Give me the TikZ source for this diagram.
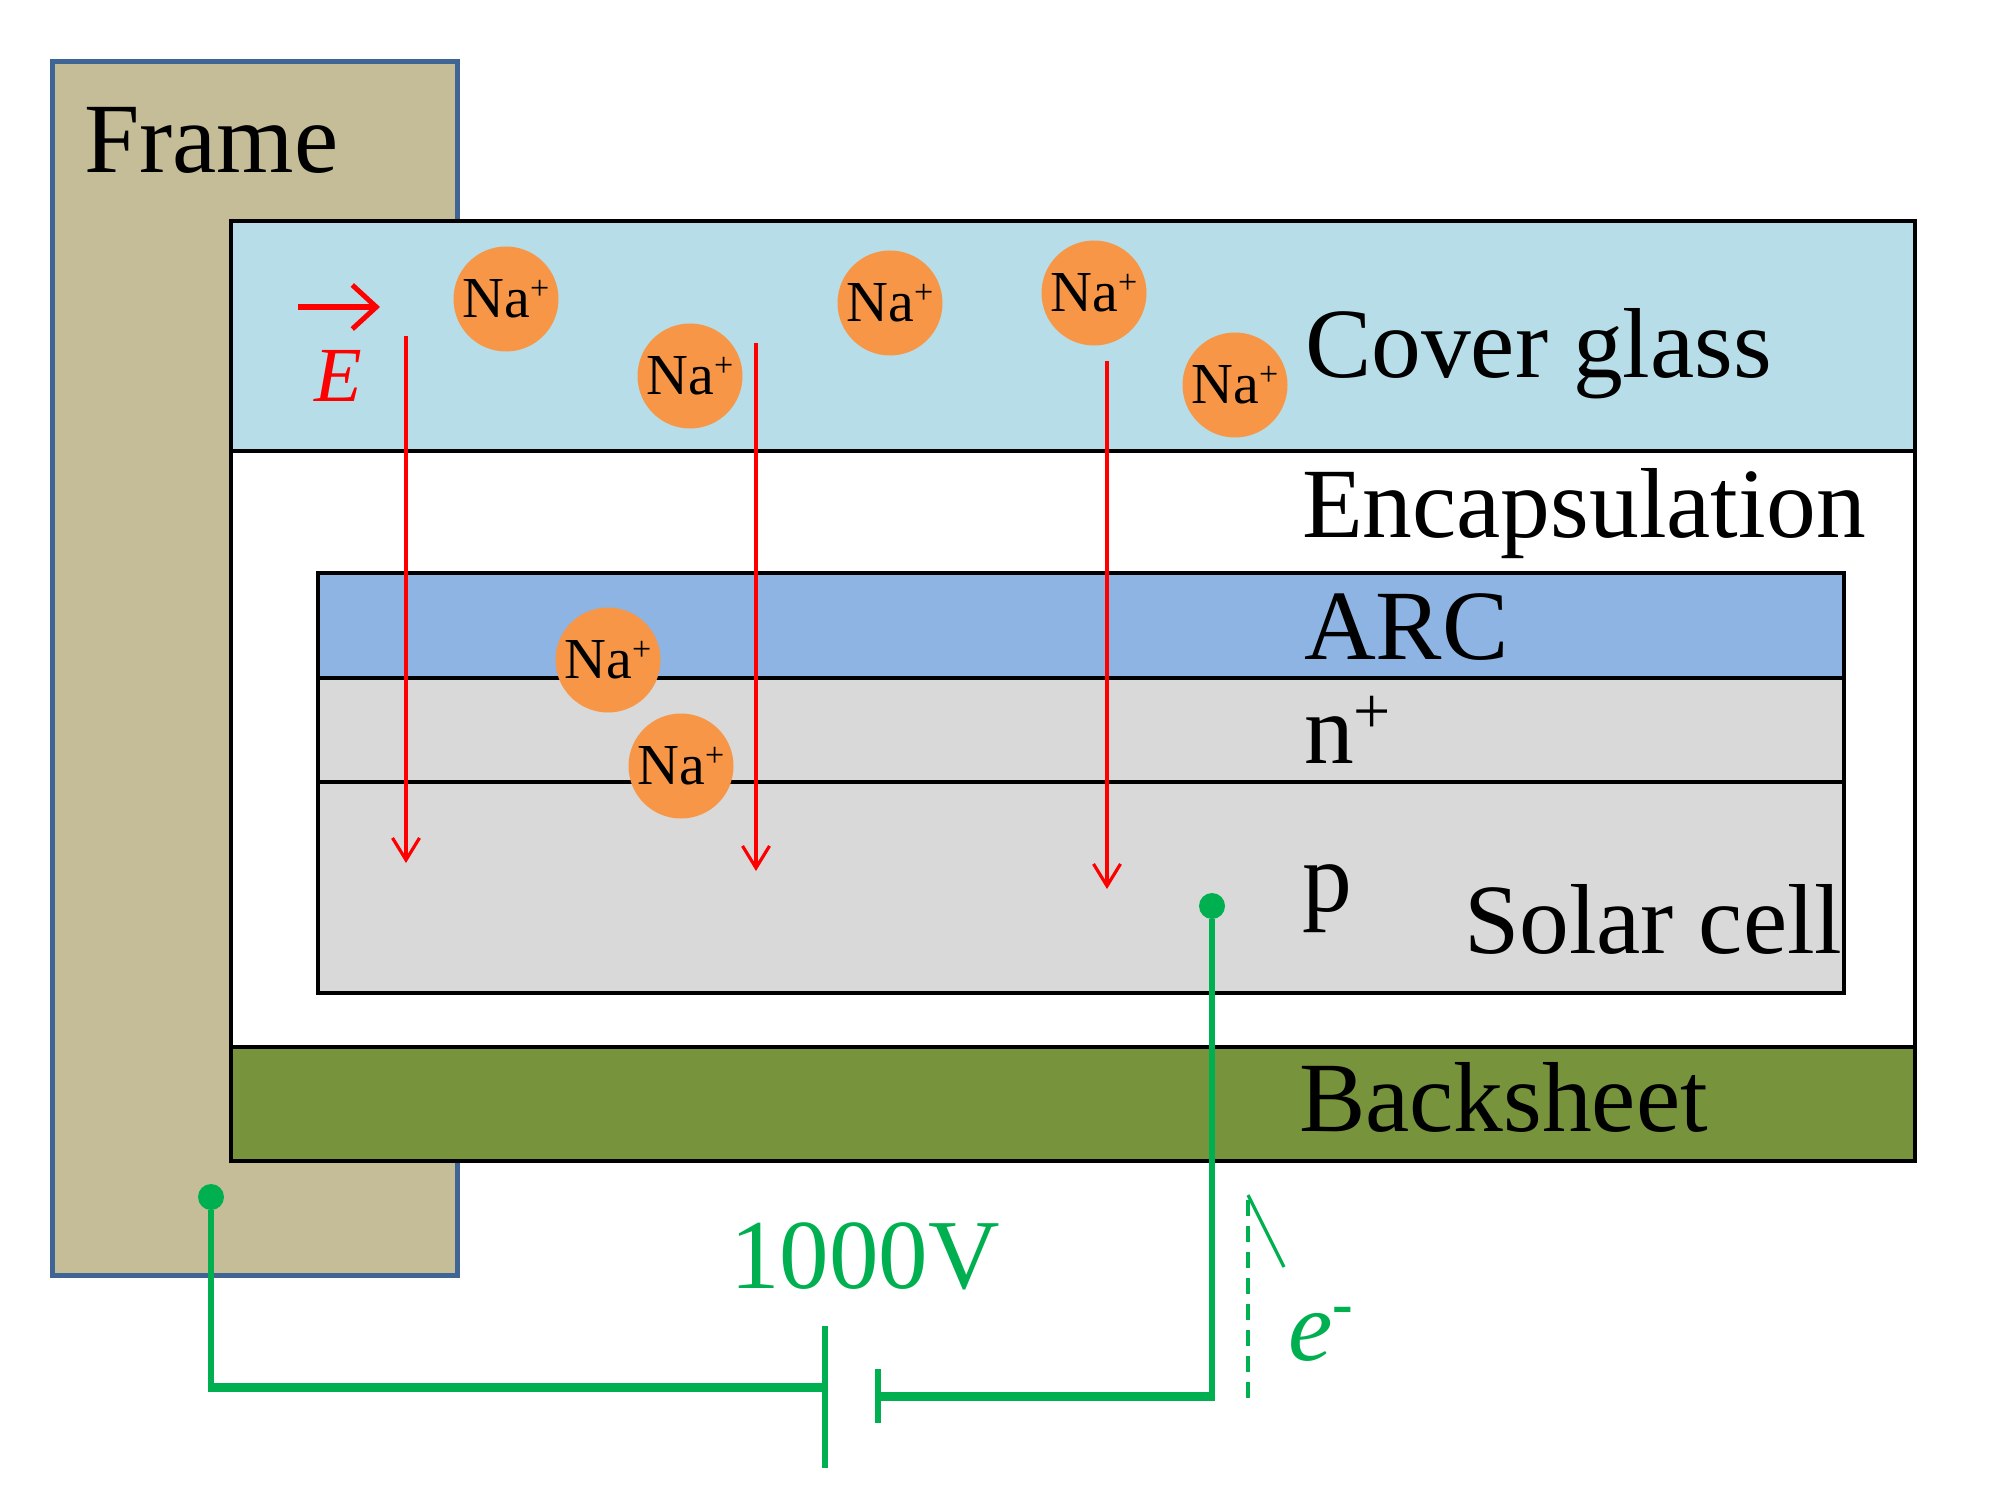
\documentclass[tikz,border=0pt]{standalone}
\usepackage{fontspec}
\setmainfont{Liberation Serif}
\usetikzlibrary{arrows.meta}
\definecolor{framefill}{HTML}{C4BD97}
\definecolor{frameline}{HTML}{3F6595}
\definecolor{glassblue}{HTML}{B7DEE8}
\definecolor{arcblue}{HTML}{8EB4E3}
\definecolor{cellgray}{HTML}{D9D9D9}
\definecolor{backgreen}{HTML}{77933C}
\definecolor{naorange}{HTML}{F79646}
\definecolor{wiregreen}{HTML}{00B050}
\newcommand{\pxfont}[1]{\fontsize{#1}{#1}\selectfont}
\newcommand{\naion}{Na\raisebox{18pt}{\pxfont{34}+}}
\tikzset{
  layer/.style={draw=black,line width=4.5pt},
  lbl/.style={anchor=base west,inner sep=0pt,outer sep=0pt,font=\pxfont{99.5},text=black},
  glbl/.style={lbl,text=wiregreen},
  ion/.style={circle,fill=naorange,minimum size=105pt,inner sep=0pt,font=\pxfont{58},text=black},
  field/.style={draw=red,line width=3.2pt,-{Straight Barb[length=22pt,width=27pt,line width=3.2pt]}},
  wire/.style={draw=wiregreen,line width=6.5pt,line cap=butt},
  dot/.style={circle,fill=wiregreen,minimum size=26pt,inner sep=0pt},
}
\begin{document}
\begin{tikzpicture}[x=1pt,y=-1pt]
\useasboundingbox (0,0) rectangle (2008,1495);
% frame and module layers
\draw[fill=framefill,draw=frameline,line width=5pt] (52,62) rectangle (457,1275);
\fill[white] (231,221) rectangle (1915,1161);
\draw[layer,fill=glassblue] (231,221) rectangle (1915,451);
\draw[layer] (231,451) -- (231,1046) (1915,451) -- (1915,1046);
\draw[layer,fill=arcblue] (318,573) rectangle (1844,678);
\draw[layer,fill=cellgray] (318,678) rectangle (1844,782);
\draw[layer,fill=cellgray] (318,782) rectangle (1844,993);
\draw[layer,fill=backgreen] (231,1047) rectangle (1915,1161);
% field arrows
\coordinate (ea) at (298,307);
\coordinate (eb) at (380,307);
\draw[draw=red,line width=5.5pt,-{Straight Barb[length=24pt,width=44pt,line width=5pt]}] (ea) -- (eb);
\node[lbl,font=\pxfont{78}\itshape,text=red] (elabel) at (314,402) {E};
\coordinate (f1a) at (406,336);
\coordinate (f1b) at (406,863);
\coordinate (f2a) at (756,343);
\coordinate (f2b) at (756,871);
\coordinate (f3a) at (1107,361);
\coordinate (f3b) at (1107,889);
\draw[field] (f1a) -- (f1b);
\draw[field] (f2a) -- (f2b);
\draw[field] (f3a) -- (f3b);
% sodium ions
\node[ion] (na1) at (506,299) {\naion};
\node[ion] (na2) at (690,376) {\naion};
\node[ion] (na3) at (890,303) {\naion};
\node[ion] (na4) at (1094,293) {\naion};
\node[ion] (na5) at (1235,385) {\naion};
\node[ion] (na6) at (608,660) {\naion};
\node[ion] (na7) at (681,766) {\naion};
% layer labels
\node[lbl] (frame) at (84,173) {Frame};
\node[lbl] (cover) at (1305,378) {Cover glass};
\node[lbl] (encap) at (1302,537) {Encapsulation};
\node[lbl] (arc) at (1304,659) {ARC};
\node[lbl] (nplus) at (1304,763) {n\raisebox{30pt}{\pxfont{66}+}};
\node[lbl] (player) at (1302,911) {p};
\node[lbl] (solar) at (1464,953) {Solar cell};
\node[lbl] (back) at (1299,1131) {Backsheet};
% circuit
\node[dot] (d1) at (211,1197) {};
\node[dot] (d2) at (1212,906) {};
\coordinate (w1) at (211,1387);
\coordinate (b1) at (825,1387);
\coordinate (b1t) at (825,1326);
\coordinate (b1b) at (825,1468);
\coordinate (b2) at (878,1396);
\coordinate (b2t) at (878,1369);
\coordinate (b2b) at (878,1423);
\coordinate (w2) at (1212,1396);
\draw[wire] (d1) -- (w1);
\draw[wire,line width=9pt] ([xshift=-3.25pt]w1) -- (b1);
\draw[wire] (b1t) -- (b1b);
\draw[wire] (b2t) -- (b2b);
\draw[wire,line width=9pt] (b2) -- ([xshift=3.25pt]w2);
\draw[wire] (w2) -- (d2);
\node[glbl,font=\pxfont{99}] (volt) at (730,1288) {1000V};
% electron flow
\coordinate (ea1) at (1248,1398);
\coordinate (ea2) at (1248,1195);
\coordinate (ea3) at (1284,1267);
\draw[wiregreen,line width=3.2pt,dash pattern=on 16pt off 10pt] (ea1) -- (ea2);
\draw[wiregreen,line width=3.2pt] (ea2) -- (ea3);
\node[glbl,font=\pxfont{100}\itshape] (elec) at (1288,1360) {e\raisebox{36pt}{\pxfont{62}\bfseries\upshape -}};
\end{tikzpicture}
\end{document}
